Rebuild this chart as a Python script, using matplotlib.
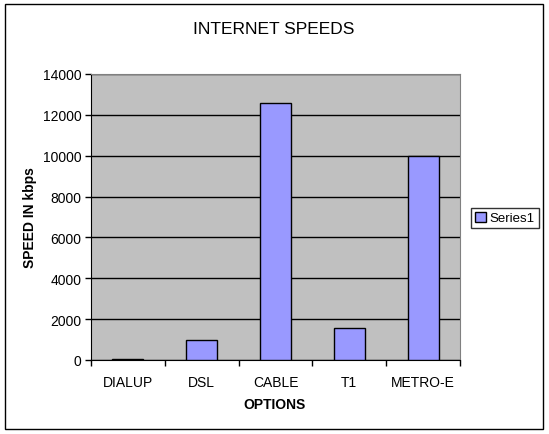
import matplotlib
matplotlib.use("Agg")
import matplotlib.pyplot as plt
from matplotlib.patches import Rectangle
import numpy as np

categories = ["DIALUP", "DSL", "CABLE", "T1", "METRO-E"]
speeds = [56, 1000, 12600, 1544, 10000]
yticks = [0, 2000, 4000, 6000, 8000, 10000, 12000, 14000]
series_name = "Series1"

plt.rcParams['font.family'] = ['Liberation Sans', 'DejaVu Sans']

fig = plt.figure(figsize=(5.49, 4.35), dpi=100)
fig.patch.set_facecolor('white')
fig.patches.append(Rectangle((5/549, 5/435), 538/549, 425/435, transform=fig.transFigure,
                             fill=False, edgecolor='black', linewidth=1.0))

ax = fig.add_axes([91/549, 74/435, 369/549, 286/435])
ax.set_facecolor('#C0C0C0')
x = np.arange(len(categories))
bars = ax.bar(x, speeds, width=0.42, color='#9999FF', edgecolor='black', linewidth=1.0,
              label=series_name, zorder=3)
ax.set_xlim(-0.5, len(categories) - 0.5)
ax.set_ylim(0, 14000)
ax.set_yticks(yticks)
ax.set_yticklabels([str(v) for v in yticks], fontsize=10)
ax.yaxis.grid(True, color='black', linewidth=1.0, zorder=1)
ax.set_axisbelow(True)

ax.set_xticks(np.arange(-0.5, len(categories), 1.0))
ax.set_xticklabels([])
ax.set_xticks(x, minor=True)
ax.set_xticklabels(categories, minor=True, fontsize=10)
ax.tick_params(axis='x', which='minor', length=0, pad=11)
ax.tick_params(axis='x', which='major', length=4, direction='out', width=1)
ax.tick_params(axis='y', length=4, direction='out', width=1, pad=3)

for s in ['top', 'right']:
    ax.spines[s].set_color('#808080')
for s in ['left', 'bottom']:
    ax.spines[s].set_color('black')

fig.text(274/549, 1 - 30/435, "INTERNET SPEEDS", ha='center', va='center', fontsize=12.5)
fig.text(275/549, 1 - 405/435, "OPTIONS", ha='center', va='center', fontsize=10, fontweight='bold')
fig.text(30/549, 1 - 218/435, "SPEED IN kbps", ha='center', va='center', fontsize=10,
         fontweight='bold', rotation=90)

leg = fig.legend(handles=[bars], labels=[series_name], loc='center',
                 bbox_to_anchor=(505/549, 1 - 219/435), frameon=True, fancybox=False,
                 fontsize=9.5, handlelength=0.8, handleheight=0.8, handletextpad=0.3,
                 borderpad=0.3, borderaxespad=0)
leg.get_frame().set_edgecolor('black')
leg.get_frame().set_linewidth(1.0)

fig.savefig("out.png", dpi=100)
